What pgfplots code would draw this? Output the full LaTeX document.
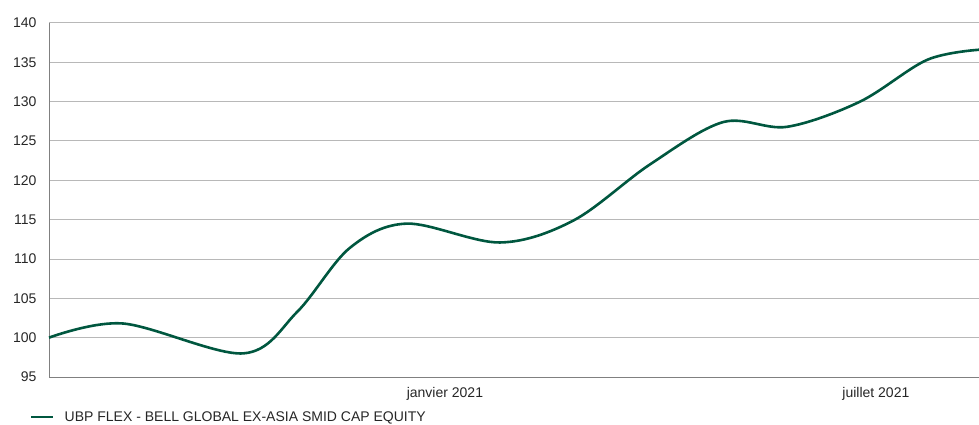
\documentclass[border=0pt]{standalone}
\usepackage{fontspec}
\setmainfont{Liberation Sans}
\usepackage{pgfplots}
\pgfplotsset{compat=1.18}
\definecolor{ubpgreen}{HTML}{00573F}
\begin{document}
\begin{tikzpicture}
\begin{axis}[
  scale only axis, width=930bp, height=354bp,
  xmin=-166.3, xmax=224.3, ymin=95, ymax=140,
  axis x line*=bottom, axis y line*=left,
  axis line style={draw=black!50, line width=1bp, -},
  ytick={95,100,...,140},
  xtick={0,181}, xticklabels={janvier 2021, juillet 2021},
  major tick length=0pt,
  ymajorgrids, grid style={draw=black!28, line width=1bp},
  tick label style={font=\fontsize{14bp}{16bp}\selectfont, text=black!85},
  /pgf/number format/assume math mode=true,
  yticklabel style={xshift=-9bp},
  xticklabel style={yshift=-7bp},
  clip=false,
  legend style={at={(axis description cs:0,0)}, anchor=west, xshift=-22bp, yshift=-40bp,
    draw=none, fill=none, font=\fontsize{14bp}{16bp}\selectfont, text=black!85},
  legend image code/.code={\draw[#1, line width=2.5bp] (0bp,0bp) -- (22bp,0bp); \path (30bp,0bp);},
]
\addplot[ubpgreen, line width=2.6bp, smooth, tension=0.55] coordinates {
(-166.3,100.0) (-135.2,101.8) (-84.8,98.0) (-62.0,103.3) (-40.0,111.4)
(-16.0,114.5) (23.1,112.1) (54.0,114.9) (86.0,122.0)
(116.8,127.4) (143.6,126.8) (174.3,130.0) (202.4,135.3)
(224.3,136.6)
};
\addlegendentry{UBP FLEX - BELL GLOBAL EX-ASIA SMID CAP EQUITY}
\end{axis}
\pgfresetboundingbox
\useasboundingbox (-49bp,-48bp) rectangle (930bp,377bp);
\end{tikzpicture}
\end{document}
